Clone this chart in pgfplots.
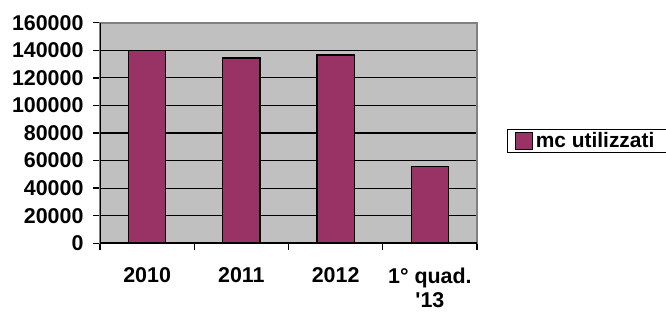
\documentclass[border=0pt]{standalone}
\usepackage{pgfplots}
\pgfplotsset{compat=1.18}
\usepackage{fontspec}
\setmainfont{Liberation Sans}
\definecolor{plum}{HTML}{993366}
\definecolor{bggray}{HTML}{C0C0C0}
\definecolor{framegray}{HTML}{808080}
\begin{document}
\begin{tikzpicture}
\path[use as bounding box] (0,0) rectangle (666bp,312bp);
\begin{axis}[
  at={(100bp,68.7bp)}, anchor=south west,
  scale only axis, width=377bp, height=220.6bp,
  ymin=0, ymax=160000, ytick={0,20000,...,160000},
  xmin=-0.5, xmax=3.5,
  xtick={-0.5,0.5,1.5,2.5,3.5}, xticklabels={},
  extra x ticks={0,1,2,3},
  extra x tick labels={2010,2011,2012,{1° quad.\\\textquotesingle13}},
  extra x tick style={major tick length=0pt, grid=none,
    tick label style={yshift=-21bp}},
  tick pos=left, tick align=outside,
  major tick length=7bp,
  tick style={black, line width=1.5pt},
  scaled y ticks=false,
  /pgf/number format/assume math mode=true,
  yticklabel style={/pgf/number format/fixed, /pgf/number format/1000 sep={}, xshift=-6bp},
  tick label style={font=\fontsize{21.5}{24.5}\selectfont\bfseries, align=center},
  ymajorgrids, major grid style={black, line width=1.3pt},
  axis line style={framegray, line width=1.8pt},
  axis background/.style={fill=bggray},
  ybar, bar width=37.3bp,
  legend style={at={(1.08,0.464)}, anchor=west, draw=black, line width=1pt,
    fill=white, font=\fontsize{21}{24}\selectfont\bfseries,
    inner xsep=7bp, inner ysep=2.5bp,
    nodes={inner sep=0pt},
    legend cell align=left},
  legend image code/.code={\draw[#1, line width=1pt] (0bp,-8.5bp) rectangle (17bp,8.5bp); \path (20bp,0bp);},
]
\addplot[fill=plum, draw=black, line width=1.3pt] coordinates {(0,140000) (1,134500) (2,136600) (3,55800)};
\addlegendentry{mc utilizzati\rule{20bp}{0pt}}
\draw[black, line width=1.8pt] (rel axis cs:0,1) -- (rel axis cs:0,0) -- (rel axis cs:1,0);
\end{axis}
\end{tikzpicture}
\end{document}
